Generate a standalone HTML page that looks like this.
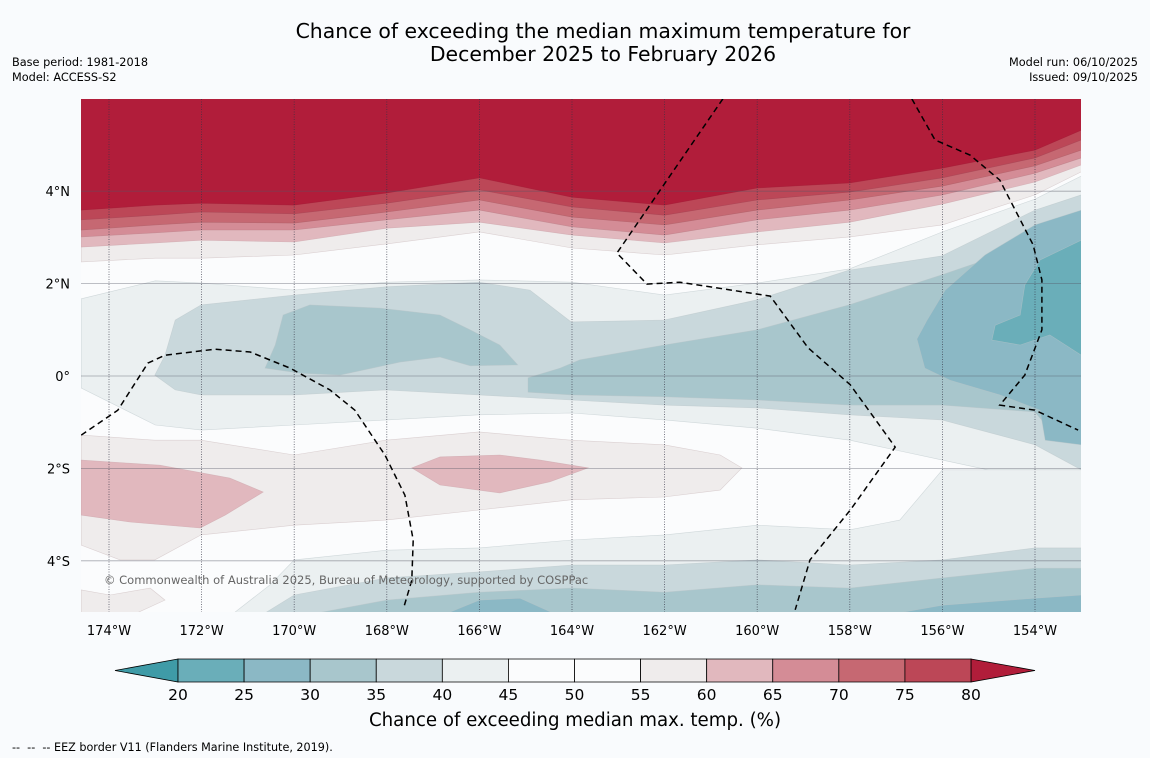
<!DOCTYPE html>
<html><head><meta charset="utf-8"><style>
body{margin:0;background:#f9fbfd;}
svg{display:block;font-family:"DejaVu Sans","Liberation Sans",sans-serif;}
</style></head><body>
<svg id="s" width="1150" height="758" viewBox="0 0 1150 758">
<rect width="1150" height="758" fill="#f9fbfd"/>
<text x="603" y="38" font-size="20.4" text-anchor="middle">Chance of exceeding the median maximum temperature for</text>
<text x="603" y="61" font-size="20.4" text-anchor="middle">December 2025 to February 2026</text>
<text x="12" y="66" font-size="11.3">Base period: 1981-2018</text>
<text x="12" y="81" font-size="11.3">Model: ACCESS-S2</text>
<text x="1138" y="66" font-size="11.3" text-anchor="end">Model run: 06/10/2025</text>
<text x="1138" y="81" font-size="11.3" text-anchor="end">Issued: 09/10/2025</text>
<defs><clipPath id="mc"><rect x="81" y="99" width="1000" height="513"/></clipPath></defs>
<g id="map" clip-path="url(#mc)"></g>
<g id="axes"></g>
<g id="cbar"></g>
<text x="575" y="726" font-size="18.2" text-anchor="middle">Chance of exceeding median max. temp. (%)</text>
<text x="12" y="751" font-size="11.2" style="white-space:pre">--  --  -- EEZ border V11 (Flanders Marine Institute, 2019).</text>
</svg>
<script>
const cols=[-174.6,-173,-172,-170,-168,-166,-164,-162,-160,-158,-156,-154,-153];
const L55=[2.47,2.55,2.55,2.62,2.86,3.12,2.77,2.62,2.84,3.01,3.27,3.92,4.42];
const L60=[2.79,2.88,2.94,2.90,3.20,3.33,3.05,2.88,3.12,3.33,3.72,4.20,4.57];
const L65=[3.01,3.10,3.16,3.16,3.38,3.59,3.23,3.05,3.38,3.59,3.92,4.39,4.72];
const L70=[3.16,3.27,3.33,3.31,3.55,3.81,3.44,3.27,3.59,3.81,4.11,4.55,4.89];
const L75=[3.38,3.48,3.55,3.51,3.74,4.03,3.66,3.48,3.81,3.98,4.29,4.72,5.11];
const L80=[3.59,3.70,3.74,3.70,3.96,4.29,3.87,3.70,4.07,4.18,4.50,4.89,5.32];
const T40=[1.67,2.06,2.01,1.86,2.03,2.08,2.03,1.75,2.01,2.32,3.12,3.83,4.33];
const M40=[-0.26,-1.06,-1.17,-1.06,-0.95,-0.84,-0.80,-0.95,-1.13,-1.39,-1.82,-2.25,-2.36];
const mid35=[[-173.01,0.02],[-172.79,0.45],[-172.57,1.21],[-172.01,1.54],[-170,1.75],[-168.02,1.93],[-166.01,2.03],[-164.91,1.86],[-164.02,1.17],[-162.01,1.21],[-160,1.65],[-158.02,2.29],[-156.01,2.6],[-154,3.59],[-153,3.92],[-153,-2.03],[-154,-1.49],[-156.01,-0.95],[-158.02,-0.84],[-160,-0.69],[-162.01,-0.63],[-164.02,-0.52],[-166.01,-0.41],[-168.02,-0.30],[-170,-0.41],[-172.01,-0.41],[-172.57,-0.30]];
const blob30a=[[-170.63,0.17],[-170.41,0.67],[-170.24,1.32],[-169.66,1.54],[-168.15,1.47],[-166.85,1.32],[-166.2,1.0],[-165.56,0.67],[-165.17,0.24],[-166.2,0.22],[-166.85,0.41],[-167.71,0.30],[-169.01,0.02],[-169.87,0.06]];
const band30b=[[-164.95,-0.04],[-164.26,0.17],[-163.83,0.35],[-162.01,0.67],[-160,1.0],[-158.02,1.54],[-156.01,2.19],[-154.76,2.62],[-154,3.05],[-153,3.48],[-153,-1.39],[-153.68,-1.17],[-154,-0.78],[-156.01,-0.63],[-158.02,-0.63],[-160,-0.52],[-162.01,-0.45],[-164.02,-0.41],[-164.95,-0.35]];
const reg25=[[-156.38,0.17],[-156.55,0.80],[-156.33,1.21],[-155.94,1.86],[-155.08,2.62],[-154,3.27],[-153,3.59],[-153,-1.49],[-153.78,-1.39],[-153.89,-0.74],[-154.76,-0.41],[-155.84,-0.09]];
const reg20=[[-154.93,0.78],[-154.86,1.10],[-154.32,1.32],[-154.22,1.97],[-153.89,2.51],[-153,2.94],[-153,0.45],[-153.68,0.89],[-154.32,0.67]];
const bot40=[[-171.39,-5.2],[-170.52,-4.52],[-170,-3.98],[-168,-3.77],[-166,-3.72],[-164,-3.55],[-162,-3.44],[-160,-3.23],[-158,-3.33],[-156.92,-3.12],[-156,-2.03],[-154,-2.03],[-153,-2.03],[-153,-5.2]];
const bot35=[[-170.74,-5.2],[-170,-4.74],[-168,-4.37],[-166,-4.24],[-164,-4.09],[-162,-4.09],[-160,-3.98],[-158,-4.09],[-156,-3.98],[-154,-3.72],[-153,-3.72],[-153,-5.2]];
const bot30=[[-169.87,-5.2],[-168,-4.85],[-166,-4.68],[-164,-4.59],[-162,-4.68],[-160,-4.52],[-158,-4.59],[-156,-4.37],[-154,-4.16],[-153,-4.16],[-153,-5.2]];
const bot25a=[[-166.85,-5.2],[-166,-4.85],[-165.12,-4.81],[-164.26,-5.2]];
const bot25b=[[-157.35,-5.2],[-156,-4.96],[-154,-4.81],[-153,-4.74],[-153,-5.2]];
const pink55=[[-174.6,-1.28],[-173.01,-1.39],[-172.01,-1.39],[-170,-1.71],[-168.02,-1.39],[-166.01,-1.21],[-164.02,-1.39],[-162.01,-1.49],[-160.8,-1.71],[-160.33,-1.99],[-160.8,-2.47],[-162.01,-2.62],[-164.02,-2.68],[-166.01,-2.90],[-168.02,-3.12],[-170,-3.23],[-172.01,-3.44],[-173.01,-3.98],[-173.76,-3.98],[-174.6,-3.66]];
const pink55b=[[-174.6,-4.63],[-173.98,-4.74],[-173.11,-4.59],[-172.79,-4.85],[-173.55,-5.2],[-174.6,-5.2]];
const pink60a=[[-174.6,-1.82],[-172.9,-1.93],[-171.39,-2.21],[-170.67,-2.51],[-171.49,-3.01],[-172.03,-3.29],[-173.55,-3.16],[-174.6,-3.01]];
const pink60b=[[-167.46,-1.99],[-166.85,-1.75],[-165.56,-1.71],[-164.69,-1.82],[-163.65,-1.99],[-164.48,-2.29],[-165.56,-2.53],[-166.85,-2.36]];
const eez1=[[-174.6,-1.28],[-173.81,-0.74],[-173.16,0.28],[-172.79,0.45],[-171.71,0.58],[-170.95,0.52],[-170.09,0.17],[-169.23,-0.30],[-168.69,-0.74],[-168.04,-1.71],[-167.61,-2.58],[-167.43,-3.55],[-167.46,-4.42],[-167.63,-5.0]];
const eez2=[[-160.74,6.0],[-163.03,2.66],[-162.38,1.99],[-161.67,2.03],[-159.72,1.73],[-158.9,0.61],[-157.99,-0.19],[-157.02,-1.54],[-157.99,-2.9],[-158.86,-3.98],[-159.18,-5.06]];
const eez3=[[-156.66,6.0],[-156.16,5.11],[-155.4,4.78],[-154.76,4.24],[-154.04,2.84],[-153.85,2.08],[-153.85,1.0],[-154.22,0.02],[-154.76,-0.63],[-154,-0.74],[-153.07,-1.17]];
const lonTicks=[-174,-172,-170,-168,-166,-164,-162,-160,-158,-156,-154];
const latTicks=[4,2,0,-2,-4];
const levels=[20,25,30,35,40,45,50,55,60,65,70,75,80];
const binColors=['#6aaeb9','#8bb8c5','#a8c6cc','#c9d8dc','#ebf0f1','#fbfcfd','#fbfcfd','#efecec','#e1b8be','#d48c96','#c66872','#bc4757'];
const underColor='#3f9ba7', overColor='#b11d3a';

const NS='http://www.w3.org/2000/svg';
const X=lon=>109+(lon+174)*46.3;
const Y=lat=>376-lat*46.2;
const map=document.getElementById('map');
function poly(pts,fill,name,stroke){
  const p=document.createElementNS(NS,'polygon');
  p.setAttribute('points',pts.map(q=>X(q[0]).toFixed(1)+','+Y(q[1]).toFixed(1)).join(' '));
  p.setAttribute('fill',fill);
  p.setAttribute('stroke',stroke||'#b9c4c8');p.setAttribute('stroke-width','0.6');p.setAttribute('stroke-opacity','0.6');
  
  
  map.appendChild(p);
}
function line(pts,name){
  const p=document.createElementNS(NS,'polyline');
  p.setAttribute('points',pts.map(q=>X(q[0]).toFixed(1)+','+Y(q[1]).toFixed(1)).join(' '));
  p.setAttribute('fill','none');p.setAttribute('stroke','#000');p.setAttribute('stroke-width','1.5');p.setAttribute('stroke-dasharray','6,4');
  
  
  map.appendChild(p);
}
const bg=document.createElementNS(NS,'rect');
bg.setAttribute('x',81);bg.setAttribute('y',99);bg.setAttribute('width',1000);bg.setAttribute('height',513);bg.setAttribute('fill','#fbfcfd');


map.appendChild(bg);
function topBand(L,fill,name,stroke){
  const pts=[[cols[0],6.5]].concat(cols.map((c,i)=>[c,L[i]])).concat([[cols[cols.length-1],6.5]]);
  poly(pts,fill,name,stroke);
}
topBand(L55,'#efecec','band-55-60','#c9b9bb');
topBand(L60,'#e1b8be','band-60-65','#c9a0a6');
topBand(L65,'#d48c96','band-65-70','#b87a82');
topBand(L70,'#c66872','band-70-75','#a85a63');
topBand(L75,'#bc4757','band-75-80','#a04050');
topBand(L80,'#b11d3a','band-above-80','#a01a35');
poly(cols.map((c,i)=>[c,T40[i]]).concat(cols.map((c,i)=>[c,M40[i]]).reverse()),'#ebf0f1','band-40-45-mid');
poly(mid35,'#c9d8dc','band-35-40-mid');
poly(blob30a,'#a8c6cc','band-30-35-west');
poly(band30b,'#a8c6cc','band-30-35-east');
poly(reg25,'#8bb8c5','band-25-30-east');
poly(reg20,'#6aaeb9','band-20-25-east');
poly(bot40,'#ebf0f1','band-40-45-south');
poly(bot35,'#c9d8dc','band-35-40-south');
poly(bot30,'#a8c6cc','band-30-35-south');
poly(bot25a,'#8bb8c5','band-25-30-south-west');
poly(bot25b,'#8bb8c5','band-25-30-south-east');
poly(pink55,'#efecec','band-55-60-south','#c9b9bb');
poly(pink55b,'#efecec','band-55-60-southwest','#c9b9bb');
poly(pink60a,'#e1b8be','band-60-65-west','#c9a0a6');
poly(pink60b,'#e1b8be','band-60-65-central','#c9a0a6');
lonTicks.forEach(l=>{
  const g=document.createElementNS(NS,'line');
  g.setAttribute('x1',X(l));g.setAttribute('x2',X(l));g.setAttribute('y1',99);g.setAttribute('y2',612);
  g.setAttribute('stroke','#334');g.setAttribute('stroke-width','0.8');g.setAttribute('stroke-dasharray','1,1.5');g.setAttribute('stroke-opacity','0.8');
  
  
  map.appendChild(g);
});
latTicks.forEach(l=>{
  const g=document.createElementNS(NS,'line');
  g.setAttribute('x1',81);g.setAttribute('x2',1081);g.setAttribute('y1',Y(l));g.setAttribute('y2',Y(l));
  g.setAttribute('stroke','#556');g.setAttribute('stroke-width','0.8');g.setAttribute('stroke-opacity','0.5');
  
  
  map.appendChild(g);
});
line(eez1,'eez-border-west');line(eez2,'eez-border-central');line(eez3,'eez-border-east');
const cr=document.createElementNS(NS,'text');
cr.setAttribute('x',104);cr.setAttribute('y',584);cr.setAttribute('font-size','11.5');cr.setAttribute('fill','#666');
cr.textContent='© Commonwealth of Australia 2025, Bureau of Meteorology, supported by COSPPac';


map.appendChild(cr);
const ax=document.getElementById('axes');
lonTicks.forEach(l=>{
  const t=document.createElementNS(NS,'text');
  t.setAttribute('x',X(l));t.setAttribute('y',635);t.setAttribute('font-size','13');t.setAttribute('text-anchor','middle');
  t.textContent=Math.abs(l)+'°W';
  
  
  ax.appendChild(t);
});
latTicks.forEach(l=>{
  const t=document.createElementNS(NS,'text');
  t.setAttribute('x',70);t.setAttribute('y',Y(l)+5);t.setAttribute('font-size','13');t.setAttribute('text-anchor','end');
  t.textContent=l===0?'0°':Math.abs(l)+(l>0?'°N':'°S');
  
  
  ax.appendChild(t);
});
const cb=document.getElementById('cbar');
const CX=v=>178+(v-20)*(971-178)/60;
const y0=659,y1=682;
function cpoly(pts,fill,name){
  const p=document.createElementNS(NS,'polygon');
  p.setAttribute('points',pts.map(q=>q.join(',')).join(' '));
  p.setAttribute('fill',fill);p.setAttribute('stroke','#000');p.setAttribute('stroke-width','0.8');
  
  
  cb.appendChild(p);
}
cpoly([[CX(20),y0],[115,(y0+y1)/2],[CX(20),y1]],underColor,'colorbar-under-triangle');
cpoly([[CX(80),y0],[1035,(y0+y1)/2],[CX(80),y1]],overColor,'colorbar-over-triangle');
binColors.forEach((c,i)=>{
  cpoly([[CX(levels[i]),y0],[CX(levels[i+1]),y0],[CX(levels[i+1]),y1],[CX(levels[i]),y1]],c,'colorbar-bin');
});
levels.forEach(v=>{
  const t=document.createElementNS(NS,'text');
  t.setAttribute('x',CX(v));t.setAttribute('y',700);t.setAttribute('font-size','15.5');t.setAttribute('text-anchor','middle');
  t.textContent=v;
  
  
  cb.appendChild(t);
});
</script>
</body></html>
